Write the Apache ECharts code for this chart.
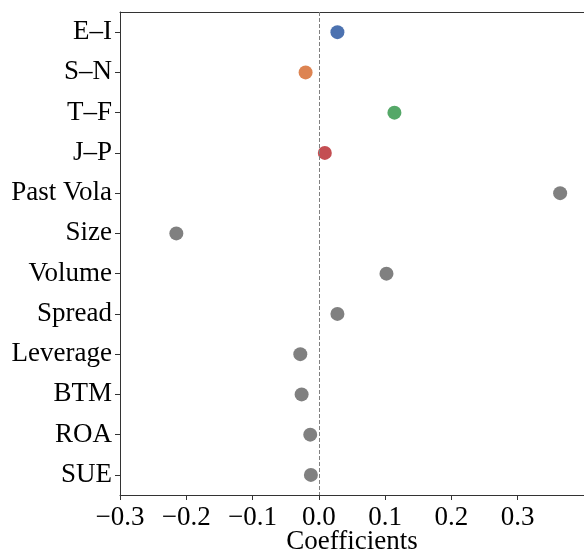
<!DOCTYPE html>
<html>
<head>
<meta charset="utf-8">
<script src="https://cdn.jsdelivr.net/npm/echarts@6/dist/echarts.min.js"></script>
<style>
  html, body { margin: 0; padding: 0; background: #fff; }
  #chart { width: 584px; height: 555px; }
</style>
</head>
<body>
<div id="chart"></div>
<script>
// 变量名 (从上到下)
var categories = ['E–I', 'S–N', 'T–F', 'J–P', 'Past Vola', 'Size', 'Volume', 'Spread', 'Leverage', 'BTM', 'ROA', 'SUE']
var coefficients = [0.028, -0.020, 0.114, 0.009, 0.364, -0.215, 0.102, 0.028, -0.028, -0.026, -0.013, -0.012]
var pointColors = ['#4c72b0', '#dd8452', '#55a868', '#c44e52', '#808080', '#808080', '#808080', '#808080', '#808080', '#808080', '#808080', '#808080']
var xTicks = [-0.3, -0.2, -0.1, 0.0, 0.1, 0.2, 0.3]

var font = 'Liberation Serif'
var chart = echarts.init(document.getElementById('chart'))

var option = {
  animation: false,
  grid: { left: 120, right: 0, top: 12, bottom: 60, outerBoundsMode: 'none', containLabel: false },
  xAxis: [{
    type: 'value',
    min: -0.3,
    max: 0.4,
    interval: 0.1,
    name: 'Coefficients',
    nameLocation: 'middle',
    nameGap: 33,
    nameMoveOverlap: false,
    nameTextStyle: { fontFamily: font, fontSize: 27, color: '#000', verticalAlign: 'top' },
    axisLine: { show: true, onZero: false, lineStyle: { color: '#333', width: 1 } },
    axisTick: { show: true, length: 5, lineStyle: { color: '#333' } },
    splitLine: { show: false },
    axisLabel: {
      fontFamily: font,
      fontSize: 27,
      color: '#000',
      margin: 9,
      showMaxLabel: false,
      formatter: function (v) {
        var r = Math.round(v * 10) / 10
        if (xTicks.indexOf(r) < 0) return ''
        return (r < 0 ? '−' : '') + Math.abs(r).toFixed(1)
      }
    }
  }, {
    type: 'value',
    position: 'top',
    min: -0.3,
    max: 0.4,
    axisLine: { show: true, onZero: false, lineStyle: { color: '#333', width: 1 } },
    axisTick: { show: false },
    axisLabel: { show: false },
    splitLine: { show: false }
  }],
  yAxis: {
    type: 'category',
    inverse: true,
    data: categories,
    boundaryGap: true,
    axisLine: { show: true, onZero: false, lineStyle: { color: '#333', width: 1 } },
    axisTick: { show: true, alignWithLabel: true, length: 5, lineStyle: { color: '#333' } },
    axisLabel: { fontFamily: font, fontSize: 27, color: '#000', margin: 8 }
  },
  series: [{
    type: 'scatter',
    symbolSize: 14,
    data: coefficients.map(function (v, i) {
      return { value: [v, categories[i]], itemStyle: { color: pointColors[i], opacity: 1 } }
    }),
    markLine: {
      silent: true,
      symbol: 'none',
      label: { show: false },
      lineStyle: { color: '#808080', type: [4, 2], width: 1 },
      data: [{ xAxis: 0 }]
    }
  }]
}

chart.setOption(option)
</script>
</body>
</html>
